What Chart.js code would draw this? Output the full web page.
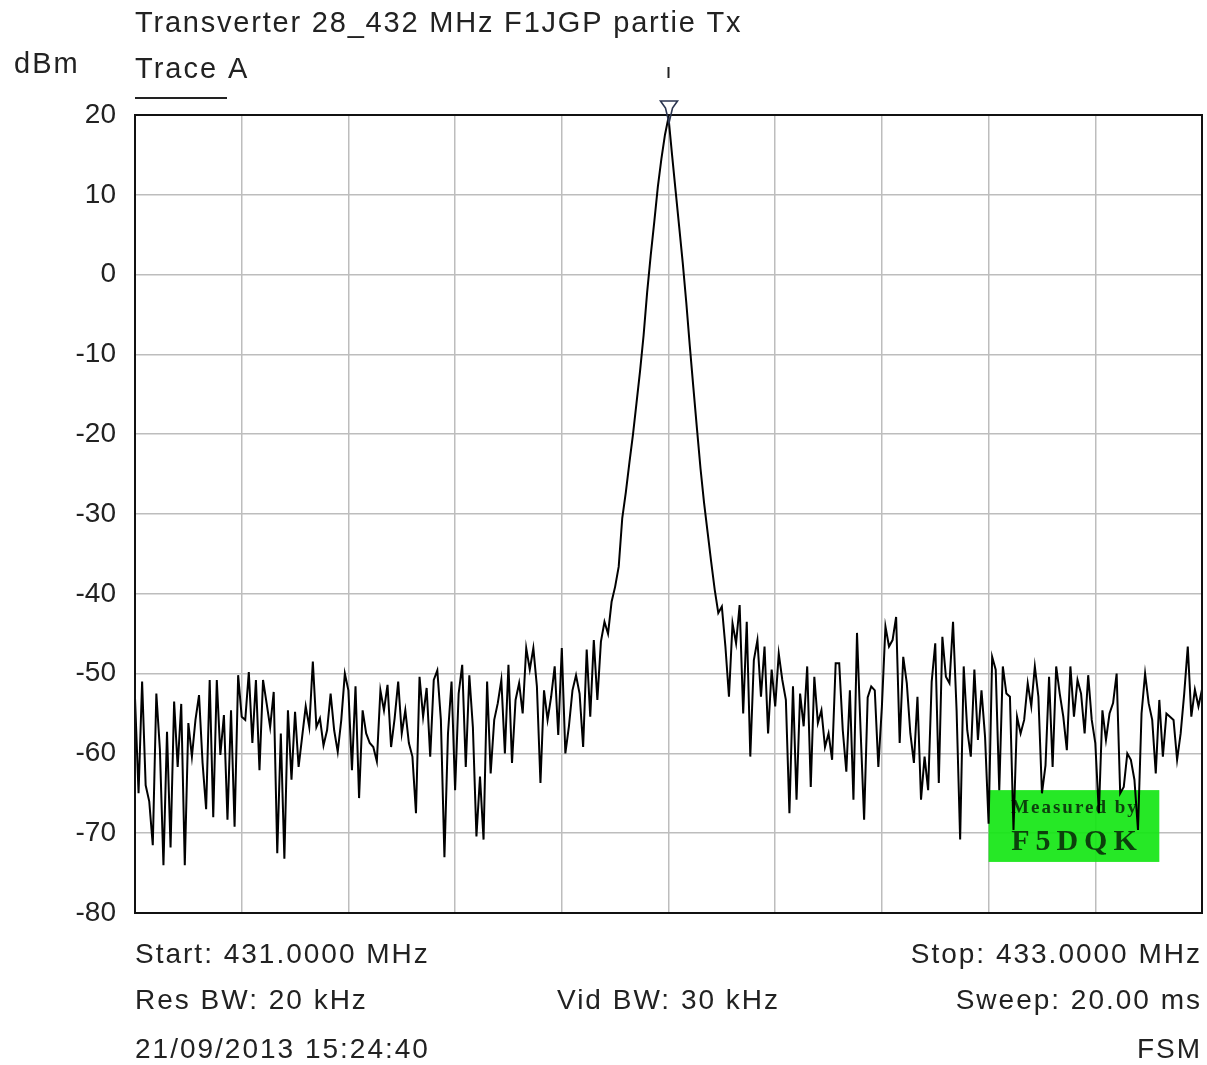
<!DOCTYPE html>
<html>
<head>
  <meta charset="utf-8">
  <title>Transverter 28_432 MHz F1JGP partie Tx</title>
  <script src="https://cdn.jsdelivr.net/npm/chart.js"></script>
  <style>
    body {
      margin: 0;
      background-color: #fff;
      font-family: "Liberation Sans", Arial, sans-serif;
    }
    canvas { display: block; }
  </style>
</head>
<body>
  <canvas id="spectrum" width="1207" height="1065"></canvas>

  <script>
    // ----- Sweep settings -----
    const startMHz = 431.0;
    const stopMHz  = 433.0;
    const markerMHz = 432.0;

    // ----- Trace A, 301 sweep points, dBm -----
    const levels = [
      -53, -65, -51, -64, -66, -71.5, -52.5, -59.5, -74, -57.3,
      -71.8, -53.5, -61.7, -53.8, -74, -56.2, -60.4, -55.8, -52.7, -61.2,
      -67, -50.8, -68, -50.8, -60.2, -55.2, -68.3, -54.6, -69.2, -50.2,
      -55.4, -55.8, -49.8, -58.7, -50.8, -62.1, -50.8, -53.7, -56.7, -52.3,
      -72.5, -57.5, -73.2, -54.6, -63.3, -54.8, -61.7, -57.9, -54.1, -56.7,
      -48.5, -56.7, -55.6, -59, -57.1, -52.5, -57.1, -59.8, -55.8, -50,
      -52.1, -62.1, -51.6, -65.6, -54.6, -57.5, -58.7, -59.2, -61, -52.1,
      -54.6, -51.4, -59.2, -55.6, -51, -57.5, -54.6, -58.7, -60.4, -67.5,
      -50.4, -55.4, -51.8, -60.4, -50.8, -49.6, -55.8, -73, -57.5, -51,
      -64.6, -52.5, -48.9, -61.7, -50.2, -56.7, -70.4, -62.9, -70.8, -51,
      -62.5, -55.8, -53.7, -50.8, -60, -48.9, -61.2, -53.3, -51.2, -55,
      -46.8, -49.5, -46.8, -51.6, -63.7, -52.1, -55.8, -52.9, -49.1, -57.7,
      -46.8, -60, -56.6, -52.1, -50.2, -52.5, -59.2, -47, -55.4, -45.8,
      -53.3, -46, -43.5, -45, -41, -39.1, -36.6, -30.5, -27.3, -23.6,
      -20.1, -16.1, -12.1, -7.6, -2.2, 2.4, 6.6, 11, 14.5, 17.5,
      19.7, 15, 10.5, 6, 1.5, -3.5, -9, -14.2, -19.3, -24.3,
      -28.6, -32.3, -36, -39.5, -42.4, -41.6, -46.6, -52.9, -43.7, -46.2,
      -41.4, -55, -43.5, -60.4, -48.3, -45.8, -52.9, -46.6, -57.5, -49.5,
      -54.1, -47.5, -50.8, -53.3, -67.5, -51.6, -65.8, -52.5, -56.6, -49.1,
      -64.2, -50.4, -56.2, -54.6, -59.2, -57.5, -60.8, -48.7, -48.7, -57.1,
      -62.3, -52.1, -65.8, -44.9, -57, -68.3, -53, -51.6, -52.1, -61.7,
      -54.1, -44.1, -46.6, -45.8, -42.9, -58.7, -47.9, -51.2, -57.5, -61.2,
      -52.9, -65.8, -60.4, -64.6, -51, -46.2, -63.7, -45.4, -50.4, -51.2,
      -43.5, -54.6, -70.8, -49.1, -57.1, -60.4, -49.5, -58.3, -52.1, -57.9,
      -68.8, -47.9, -49.5, -64.6, -49.1, -52.5, -52.9, -69.6, -55.4, -57.5,
      -55.8, -51.2, -54.1, -49.1, -52.9, -65, -61.5, -50.4, -61.7, -49.1,
      -52.5, -55.4, -59.6, -49.1, -55.4, -50.8, -52.5, -57.5, -50.2, -55.8,
      -58.7, -67.5, -54.6, -58.3, -55, -53.7, -50, -65, -64.2, -60,
      -60.8, -63.3, -69.6, -55, -50, -53.7, -55.8, -62.5, -53.3, -60.4,
      -55, -55.4, -55.8, -60.8, -57.5, -52.5, -46.6, -55.4, -52, -54.1,
      -52
    ];

    // frequency of each sweep point (evenly spaced over the span)
    const freqs = levels.map((v, i) => startMHz + i * (stopMHz - startMHz) / (levels.length - 1));

    // ----- Screen texts -----
    const titleText = "Transverter 28_432 MHz F1JGP partie Tx";
    const traceText = "Trace A";
    const unitText  = "dBm";
    const footLeft   = ["Start: 431.0000 MHz", "Res BW: 20 kHz", "21/09/2013 15:24:40"];
    const footCenter = ["", "Vid BW: 30 kHz", ""];
    const footRight  = ["Stop: 433.0000 MHz", "Sweep: 20.00 ms", "FSM"];
    const stampLines = ["Measured by", "F5DQK"];

    const textColor = "#222";
    const font = "Liberation Sans, Arial, sans-serif";

    // green "Measured by" stamp, placed in data units
    const stampBox = { x0: 432.6, x1: 432.92, y0: -64.6, y1: -73.6 };

    const screenPlugin = {
      id: "screen",
      beforeDatasetsDraw(chart) {
        const ctx = chart.ctx;
        const xs = chart.scales.x, ys = chart.scales.y;
        const l = xs.getPixelForValue(stampBox.x0), r = xs.getPixelForValue(stampBox.x1);
        const t = ys.getPixelForValue(stampBox.y0), b = ys.getPixelForValue(stampBox.y1);
        ctx.save();
        ctx.fillStyle = "rgba(20, 230, 20, 0.92)";
        ctx.fillRect(l, t, r - l, b - t);
        ctx.fillStyle = "rgba(10, 45, 10, 0.9)";
        ctx.textAlign = "center";
        ctx.textBaseline = "middle";
        ctx.font = "bold 19px Liberation Serif, serif";
        ctx.letterSpacing = "2px";
        ctx.fillText(stampLines[0], (l + r) / 2 + 1, t + (b - t) * 0.25);
        ctx.font = "bold 30px Liberation Serif, serif";
        ctx.letterSpacing = "6px";
        ctx.fillText(stampLines[1], (l + r) / 2 + 3, t + (b - t) * 0.72);
        ctx.restore();
      },
      afterDatasetsDraw(chart) {
        const ctx = chart.ctx;
        const a = chart.chartArea;
        const xs = chart.scales.x;
        ctx.save();
        // frame
        ctx.strokeStyle = "#111";
        ctx.lineWidth = 2;
        ctx.strokeRect(a.left, a.top, a.right - a.left, a.bottom - a.top);

        // marker on the peak
        const mx = xs.getPixelForValue(markerMHz);
        ctx.strokeStyle = "#2b3550";
        ctx.lineWidth = 1.6;
        ctx.beginPath();
        ctx.moveTo(mx - 8, a.top - 14);
        ctx.lineTo(mx + 9, a.top - 14);
        ctx.lineTo(mx + 4, a.top - 7);
        ctx.lineTo(mx + 0.5, a.top + 8);
        ctx.lineTo(mx - 3, a.top - 7);
        ctx.closePath();
        ctx.stroke();
        ctx.strokeStyle = "#222";
        ctx.lineWidth = 2;
        ctx.beginPath();
        ctx.moveTo(mx, a.top - 48);
        ctx.lineTo(mx, a.top - 37);
        ctx.stroke();
        ctx.restore();
      },
      afterDraw(chart) {
        const ctx = chart.ctx;
        const a = chart.chartArea;
        ctx.save();
        ctx.fillStyle = textColor;
        ctx.textBaseline = "middle";

        ctx.font = "29px " + font;
        ctx.letterSpacing = "1.8px";
        ctx.textAlign = "left";
        ctx.fillText(titleText, a.left, 24);
        ctx.letterSpacing = "2px";
        ctx.fillText(traceText, a.left, 70);
        ctx.fillText(unitText, 14, 65);

        ctx.strokeStyle = "#222";
        ctx.lineWidth = 2;
        ctx.beginPath();
        ctx.moveTo(a.left, 98);
        ctx.lineTo(a.left + 92, 98);
        ctx.stroke();

        ctx.font = "28px " + font;
        const rows = [955, 1001, 1050];
        rows.forEach((y, k) => {
          ctx.textAlign = "left";
          ctx.fillText(footLeft[k], a.left, y);
          ctx.textAlign = "center";
          ctx.fillText(footCenter[k], (a.left + a.right) / 2, y);
          ctx.textAlign = "right";
          ctx.fillText(footRight[k], a.right, y);
        });
        ctx.restore();
      }
    };

    const ctx = document.getElementById("spectrum").getContext("2d");
    new Chart(ctx, {
      type: "line",
      data: {
        datasets: [{
          label: traceText,
          data: freqs.map((f, i) => ({ x: f, y: levels[i] })),
          borderColor: "#000",
          borderWidth: 2,
          pointRadius: 0,
          tension: 0,
          fill: false
        }]
      },
      options: {
        responsive: false,
        animation: false,
        devicePixelRatio: 1,
        layout: { padding: { top: 115, bottom: 152, left: 0, right: 5 } },
        plugins: {
          legend: { display: false },
          tooltip: { enabled: false }
        },
        scales: {
          x: {
            type: "linear",
            min: startMHz,
            max: stopMHz,
            afterFit: s => { s.height = 0; },
            ticks: { display: false, stepSize: 0.2 },
            grid: { color: "#bdbdbd", lineWidth: 1.5, drawTicks: false },
            border: { display: false }
          },
          y: {
            min: -80,
            max: 20,
            afterFit: s => { s.width = 135; },
            ticks: {
              stepSize: 10,
              padding: 19,
              color: textColor,
              font: { family: font, size: 28 }
            },
            grid: { color: "#bdbdbd", lineWidth: 1.5, drawTicks: false },
            border: { display: false }
          }
        }
      },
      plugins: [screenPlugin]
    });
  </script>
</body>
</html>
